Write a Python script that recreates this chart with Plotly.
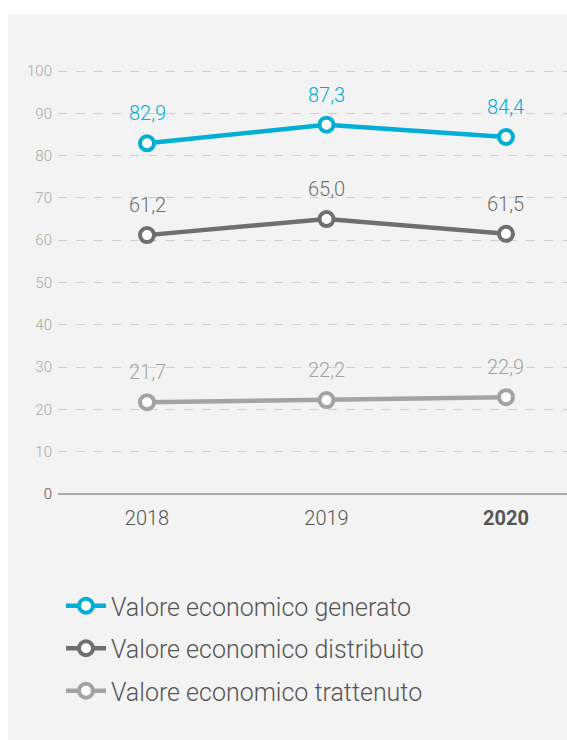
import plotly.graph_objects as go

years = ["2018", "2019", "2020"]
generato = [82.9, 87.3, 84.4]
distribuito = [61.2, 65.0, 61.5]
trattenuto = [21.7, 22.2, 22.9]
series_names = ["Valore economico generato", "Valore economico distribuito", "Valore economico trattenuto"]
colors = ["#00aed6", "#6f6f6f", "#a3a3a3"]
y_ticks = [0, 10, 20, 30, 40, 50, 60, 70, 80, 90, 100]

FONT = "Roboto"
fig = go.Figure()
annotations = []
for i, (name, vals, col) in enumerate(zip(series_names, [generato, distribuito, trattenuto], colors)):
    fig.add_trace(go.Scatter(
        x=years, y=vals, name=name, mode="lines+markers",
        line=dict(color=col, width=4.5),
        marker=dict(size=14, color="white", line=dict(color=col, width=4)),
        legendgroup=f"g{i}",
        hoverinfo="skip",
    ))
    for j, v in enumerate(vals):
        annotations.append(dict(
            x=j, y=v, xref="x", yref="y", text=f"{v:.1f}".replace(".", ","),
            showarrow=False, yshift=30,
            font=dict(family=FONT, size=20, color=col, weight=300),
        ))

L, T, B = 58, 40, 246
H = 740 - T - B
W = 567 - L

ticktext = []
for t in y_ticks:
    if t == 0:
        ticktext.append("<span style='color:#555555'>0</span>")
    else:
        ticktext.append(str(t))

fig.update_layout(
    width=567, height=740,
    margin=dict(l=L, r=0, t=T, b=B, pad=0),
    paper_bgcolor="white",
    plot_bgcolor="rgba(0,0,0,0)",
    font=dict(family=FONT, weight=300),
    showlegend=True,
    legend=dict(
        x=(61 - L) / W, y=(494 - 583) / H, xanchor="left", yanchor="top",
        font=dict(family=FONT, size=25, color="#555555", weight=300),
        bgcolor="rgba(0,0,0,0)", tracegroupgap=7,
        itemwidth=40,
    ),
    annotations=annotations,
    shapes=[dict(
        type="rect", xref="paper", yref="paper",
        x0=(8 - L) / W, x1=1.0, y0=(494 - 740) / H, y1=(494 - 14) / H,
        fillcolor="#f3f3f3", line=dict(width=0), layer="below",
    )],
    xaxis=dict(
        type="category", range=[-0.496, 2.34],
        tickvals=years, ticktext=["2018", "2019", "<b>2020</b>"],
        tickfont=dict(family=FONT, size=20, color="#555555", weight=300),
        showgrid=False, showline=False, zeroline=False, ticks="",
        ticklabelstandoff=10,
        fixedrange=True,
    ),
    yaxis=dict(
        range=[0, H / 4.23],
        tickvals=y_ticks, ticktext=ticktext,
        tickfont=dict(family=FONT, size=15, color="#a8a8a8", weight=300),
        showgrid=True, gridcolor="#cfcfcf", griddash="dash", gridwidth=1,
        zeroline=True, zerolinecolor="#aaaaaa", zerolinewidth=2,
        showline=False, ticks="", ticklabelstandoff=5,
    ),
)

fig.write_html("out.html")
